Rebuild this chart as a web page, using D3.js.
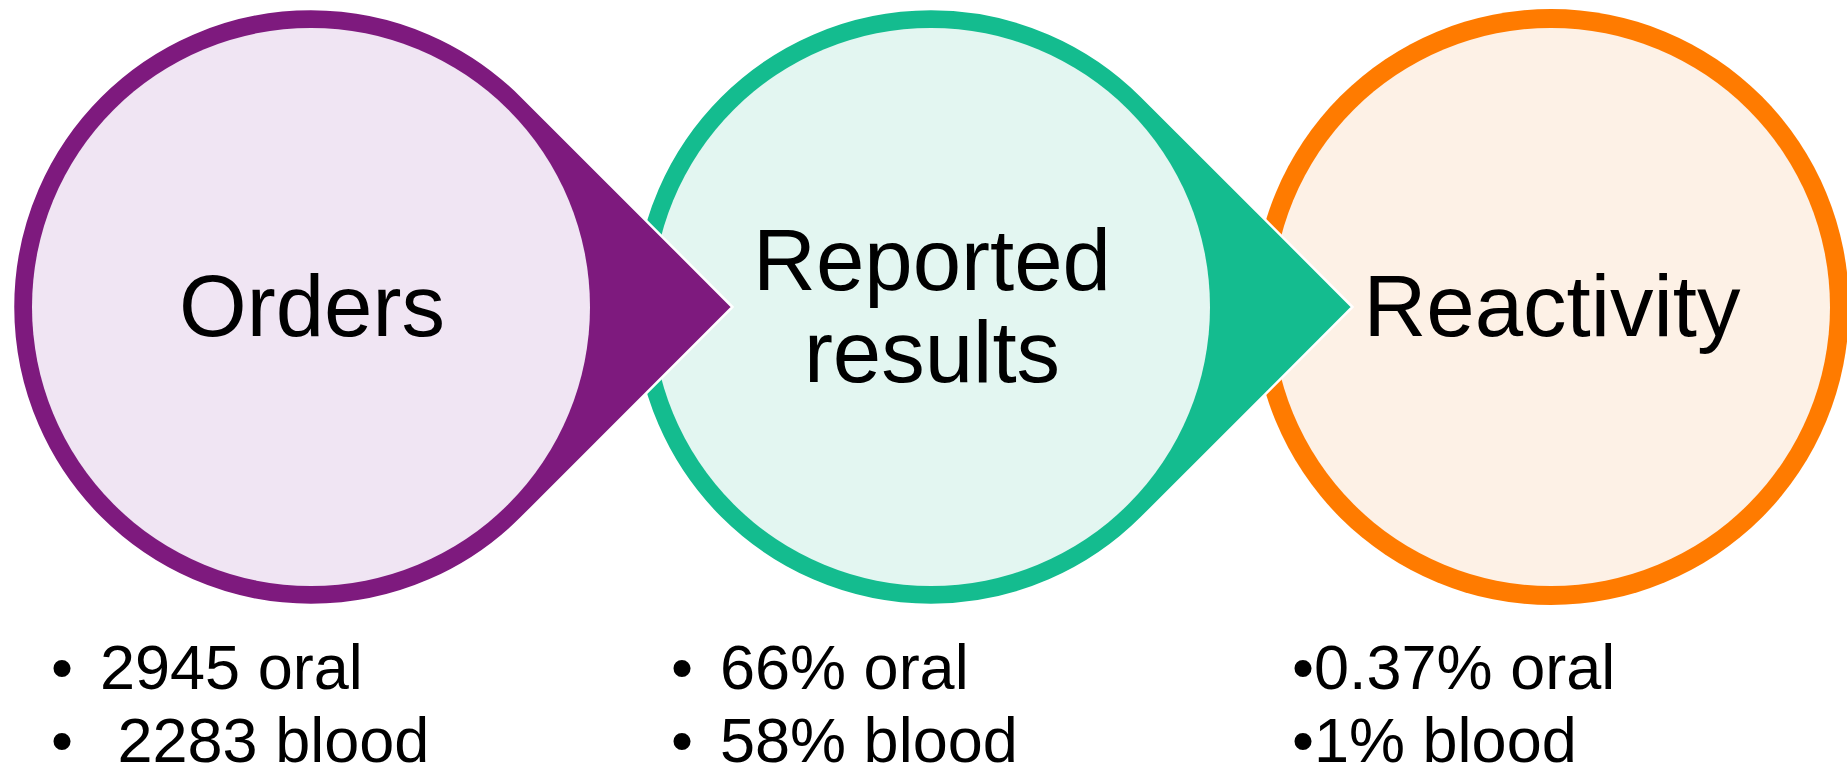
<!DOCTYPE html>
<html>
<head>
<meta charset="utf-8">
<script src="https://cdn.jsdelivr.net/npm/d3@7"></script>
<style>
  html, body { margin: 0; padding: 0; background: #ffffff; }
  svg { display: block; }
  text { font-family: "Liberation Sans", Arial, sans-serif; fill: #000; white-space: pre; }
</style>
</head>
<body>
<svg id="chart" width="1847" height="776"></svg>
<script>
// ---- data ----
const stages = ["Orders", "Reported results", "Reactivity"];
const stageLines = [["Orders"], ["Reported", "results"], ["Reactivity"]];
const oralLines = ["2945 oral", "66% oral", "0.37% oral"];
const bloodLines = [" 2283 blood", "58% blood", "1% blood"];
const hasArrow = [true, true, false];

// ---- styles ----
const strokeColors = ["#7e1a7e", "#14bc8f", "#ff7b00"];
const fillColors = ["#f0e5f3", "#e3f6f1", "#fdf1e6"];

const W = 1847, H = 776;
const svg = d3.select("#chart");

const x = d3.scalePoint().domain(stages).range([311, 1551]);
const cy = 307;
const rOuter = 298;
const rInner = 279;

function teardrop(cx) {
  const k = rOuter / Math.SQRT2;
  const tip = [cx + rOuter * Math.SQRT2, cy];
  const p = d3.path();
  p.moveTo(tip[0], tip[1]);
  p.lineTo(cx + k, cy - k);
  p.arc(cx, cy, rOuter, -Math.PI / 4, Math.PI / 4, true);
  p.closePath();
  return p.toString();
}

// draw from last to first so earlier arrows overlap later circles
const order = d3.range(stages.length).reverse();
const g = svg.append("g");
order.forEach(i => {
  const cx = x(stages[i]);
  const sg = g.append("g");
  if (hasArrow[i]) {
    sg.append("path")
      .attr("d", teardrop(cx))
      .attr("fill", strokeColors[i])
      .attr("stroke", "#ffffff")
      .attr("stroke-width", 2.5)
      .attr("stroke-linejoin", "miter");
  } else {
    sg.append("circle")
      .attr("cx", cx).attr("cy", cy).attr("r", rOuter)
      .attr("fill", strokeColors[i]);
  }
  sg.append("circle")
    .attr("cx", cx).attr("cy", cy).attr("r", rInner)
    .attr("fill", fillColors[i]);
});

// stage titles
const titleSize = 87;
stageLines.forEach((lines, i) => {
  const cx = x(stages[i]);
  const lh = 92;
  const n = lines.length;
  const base = 336 - (n - 1) * lh / 2;
  lines.forEach((ln, j) => {
    svg.append("text")
      .attr("x", cx + 1)
      .attr("y", base + j * lh)
      .attr("text-anchor", "middle")
      .attr("font-size", titleSize)
      .text(ln);
  });
});

// bullet lists
const bulletSize = 63;
const bulletDx = [-260, -260, -259];
const textDx = [-211, -211, -237];
const rows = [oralLines, bloodLines];
const rowBase = [689, 762];
rows.forEach((arr, r) => {
  arr.forEach((t, i) => {
    const cx = x(stages[i]);
    svg.append("text")
      .attr("x", cx + bulletDx[i])
      .attr("y", rowBase[r])
      .attr("font-size", bulletSize)
      .text("\u2022");
    svg.append("text")
      .attr("x", cx + textDx[i])
      .attr("y", rowBase[r])
      .attr("font-size", bulletSize)
      .text(t);
  });
});
</script>
</body>
</html>
